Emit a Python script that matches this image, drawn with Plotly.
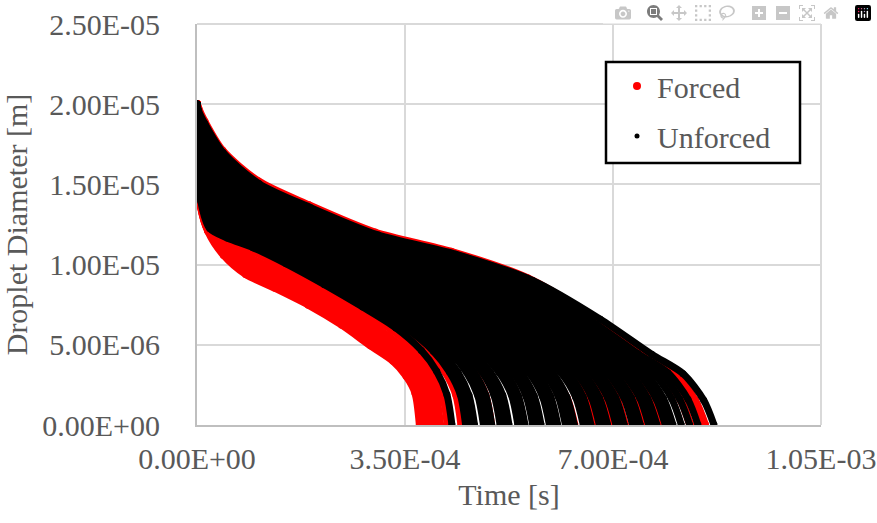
import plotly.graph_objects as go

# Fraction of each droplet's lifetime at which diameters were read
FRAC = [0, 0.003, 0.015, 0.05, 0.12, 0.22, 0.35, 0.5, 0.65, 0.78, 0.88, 0.94, 0.98, 1.0]

# Forced droplets: lifetime (1e-4 s) and diameter (um) at FRAC points
FORCED_END = [3.75, 3.86, 3.97, 4.09, 4.22, 4.45, 4.95, 5.2, 5.5, 5.75, 6.05, 6.35,
              6.65, 6.95, 7.2, 7.55, 7.85, 8.3, 8.55]
FORCED_D = [
    [20, 15.7, 13.8, 12.1, 10.6, 9.4, 8.55, 7.5, 6.25, 4.95, 4.0, 3.05, 2.0, 0],
    [20, 15.85, 13.8, 12.1, 10.8, 9.7, 8.8, 7.7, 6.45, 5.15, 4.1, 3.1, 2.0, 0],
    [20, 16.0, 13.8, 12.1, 10.95, 10.0, 9.1, 7.95, 6.6, 5.35, 4.25, 3.15, 1.95, 0],
    [20, 16.2, 13.85, 12.15, 11.2, 10.4, 9.45, 8.25, 6.9, 5.6, 4.4, 3.2, 1.95, 0],
    [20, 16.45, 13.9, 12.2, 11.5, 10.85, 9.85, 8.6, 7.2, 5.9, 4.55, 3.3, 1.9, 0],
    [20, 16.6, 14.0, 12.3, 11.6, 11.0, 9.95, 8.7, 7.25, 5.95, 4.6, 3.3, 1.9, 0],
    [20, 17.0, 14.6, 12.9, 12.1, 11.4, 10.3, 9.0, 7.5, 6.05, 4.6, 3.3, 1.85, 0],
    [20, 17.2, 15.0, 13.3, 12.35, 11.55, 10.4, 9.1, 7.6, 6.0, 4.4, 3.1, 1.7, 0],
    [20, 17.4, 15.3, 13.6, 12.6, 11.8, 10.55, 9.3, 7.8, 6.2, 4.55, 3.3, 1.8, 0],
    [20, 17.6, 15.6, 13.9, 12.8, 11.9, 10.7, 9.4, 7.9, 6.1, 4.4, 3.1, 1.7, 0],
    [20, 17.8, 16.0, 14.3, 13.1, 12.1, 10.85, 9.6, 8.05, 6.3, 4.55, 3.3, 1.8, 0],
    [20, 18.0, 16.3, 14.6, 13.35, 12.3, 11.0, 9.7, 8.15, 6.2, 4.4, 3.1, 1.65, 0],
    [20, 18.2, 16.5, 14.8, 13.55, 12.5, 11.1, 9.85, 8.3, 6.4, 4.55, 3.3, 1.75, 0],
    [20, 18.4, 16.9, 15.2, 13.85, 12.7, 11.3, 10.0, 8.45, 6.4, 4.4, 3.1, 1.6, 0],
    [20, 18.6, 17.2, 15.5, 14.05, 12.85, 11.4, 10.1, 8.55, 6.5, 4.55, 3.3, 1.7, 0],
    [20, 18.9, 17.6, 15.9, 14.35, 13.1, 11.6, 10.3, 8.7, 6.5, 4.4, 3.1, 1.6, 0],
    [20, 19.1, 17.9, 16.2, 14.6, 13.3, 11.75, 10.45, 8.85, 6.6, 4.5, 3.3, 1.65, 0],
    [20, 19.5, 18.6, 16.9, 15.05, 13.6, 11.95, 10.7, 9.1, 6.7, 4.45, 3.25, 1.6, 0],
    [20, 19.7, 18.9, 17.1, 15.2, 13.7, 12.0, 10.8, 9.15, 6.7, 4.4, 3.2, 1.55, 0],
]

# Unforced droplets: lifetime (1e-4 s) and diameter (um) at FRAC points
UNFORCED_END = [4.29, 4.52, 4.60, 4.67, 4.82, 4.89, 4.96, 5.10, 5.17, 5.25, 5.40, 5.46,
                5.52, 5.65, 5.72, 5.79, 5.93, 6.00, 6.07, 6.20, 6.28, 6.35, 6.50, 6.57,
                6.63, 6.77, 6.84, 6.91, 7.05, 7.12, 7.19, 7.33, 7.40, 7.46, 7.60, 7.67,
                7.74, 7.88, 7.95, 8.01, 8.15, 8.29, 8.43, 8.70]
UNFORCED_D = [
    [20, 16.6, 13.95, 12.25, 11.65, 11.05, 10.05, 8.75, 7.35, 6.05, 4.65, 3.35, 1.9, 0],
    [20, 16.7, 14.1, 12.4, 11.7, 11.1, 10.0, 8.75, 7.3, 6.0, 4.6, 3.3, 1.9, 0],
    [20, 16.75, 14.2, 12.5, 11.75, 11.15, 10.05, 8.8, 7.35, 5.9, 4.5, 3.2, 1.8, 0],
    [20, 16.8, 14.3, 12.6, 11.85, 11.2, 10.1, 8.85, 7.4, 6.0, 4.6, 3.3, 1.85, 0],
    [20, 16.9, 14.45, 12.75, 12.0, 11.3, 10.2, 8.9, 7.45, 6.05, 4.6, 3.3, 1.85, 0],
    [20, 16.95, 14.5, 12.8, 12.05, 11.35, 10.25, 8.95, 7.5, 6.15, 4.7, 3.4, 1.9, 0],
    [20, 17.0, 14.6, 12.9, 12.1, 11.4, 10.3, 9.0, 7.5, 6.1, 4.6, 3.3, 1.85, 0],
    [20, 17.1, 14.8, 13.1, 12.2, 11.45, 10.35, 9.05, 7.6, 6.1, 4.6, 3.3, 1.85, 0],
    [20, 17.15, 14.9, 13.2, 12.3, 11.5, 10.4, 9.05, 7.6, 6.05, 4.5, 3.2, 1.8, 0],
    [20, 17.2, 14.95, 13.25, 12.35, 11.55, 10.4, 9.1, 7.65, 6.1, 4.6, 3.3, 1.85, 0],
    [20, 17.3, 15.1, 13.4, 12.5, 11.65, 10.5, 9.2, 7.7, 6.15, 4.6, 3.3, 1.85, 0],
    [20, 17.35, 15.2, 13.5, 12.55, 11.7, 10.5, 9.25, 7.75, 6.25, 4.7, 3.4, 1.9, 0],
    [20, 17.4, 15.25, 13.55, 12.6, 11.75, 10.55, 9.3, 7.8, 6.2, 4.6, 3.3, 1.8, 0],
    [20, 17.5, 15.4, 13.7, 12.7, 11.85, 10.6, 9.35, 7.85, 6.2, 4.55, 3.3, 1.8, 0],
    [20, 17.55, 15.5, 13.8, 12.75, 11.85, 10.65, 9.35, 7.85, 6.15, 4.5, 3.2, 1.75, 0],
    [20, 17.6, 15.6, 13.9, 12.8, 11.9, 10.7, 9.4, 7.9, 6.2, 4.55, 3.3, 1.8, 0],
    [20, 17.7, 15.75, 14.05, 12.95, 12.0, 10.75, 9.5, 8.0, 6.25, 4.55, 3.3, 1.8, 0],
    [20, 17.75, 15.8, 14.1, 13.0, 12.05, 10.8, 9.55, 8.0, 6.35, 4.65, 3.4, 1.85, 0],
    [20, 17.8, 15.9, 14.2, 13.1, 12.1, 10.8, 9.6, 8.05, 6.3, 4.55, 3.3, 1.8, 0],
    [20, 17.9, 16.1, 14.4, 13.2, 12.2, 10.9, 9.65, 8.1, 6.3, 4.55, 3.3, 1.8, 0],
    [20, 17.95, 16.2, 14.5, 13.25, 12.25, 10.95, 9.7, 8.15, 6.25, 4.45, 3.2, 1.7, 0],
    [20, 18.0, 16.25, 14.55, 13.3, 12.3, 11.0, 9.7, 8.2, 6.3, 4.55, 3.3, 1.75, 0],
    [20, 18.15, 16.4, 14.7, 13.45, 12.4, 11.05, 9.8, 8.25, 6.35, 4.55, 3.3, 1.75, 0],
    [20, 18.2, 16.5, 14.8, 13.5, 12.45, 11.1, 9.8, 8.3, 6.45, 4.65, 3.4, 1.8, 0],
    [20, 18.25, 16.55, 14.85, 13.6, 12.5, 11.1, 9.85, 8.3, 6.4, 4.55, 3.3, 1.75, 0],
    [20, 18.35, 16.7, 15.0, 13.7, 12.6, 11.2, 9.9, 8.4, 6.4, 4.55, 3.3, 1.75, 0],
    [20, 18.4, 16.8, 15.1, 13.75, 12.65, 11.25, 9.95, 8.4, 6.35, 4.45, 3.2, 1.7, 0],
    [20, 18.45, 16.9, 15.2, 13.8, 12.7, 11.3, 10.0, 8.45, 6.45, 4.55, 3.3, 1.7, 0],
    [20, 18.55, 17.05, 15.35, 13.95, 12.8, 11.35, 10.05, 8.5, 6.5, 4.55, 3.3, 1.7, 0],
    [20, 18.6, 17.1, 15.4, 14.0, 12.85, 11.4, 10.1, 8.55, 6.6, 4.65, 3.4, 1.75, 0],
    [20, 18.65, 17.2, 15.5, 14.1, 12.9, 11.4, 10.1, 8.6, 6.5, 4.55, 3.3, 1.7, 0],
    [20, 18.75, 17.4, 15.7, 14.2, 12.95, 11.5, 10.2, 8.65, 6.55, 4.55, 3.3, 1.7, 0],
    [20, 18.8, 17.5, 15.8, 14.25, 13.0, 11.55, 10.25, 8.7, 6.5, 4.4, 3.2, 1.65, 0],
    [20, 18.9, 17.55, 15.85, 14.3, 13.05, 11.6, 10.3, 8.7, 6.6, 4.5, 3.3, 1.7, 0],
    [20, 19.0, 17.7, 16.0, 14.4, 13.15, 11.65, 10.35, 8.8, 6.6, 4.5, 3.3, 1.7, 0],
    [20, 19.05, 17.8, 16.1, 14.5, 13.2, 11.7, 10.4, 8.8, 6.7, 4.6, 3.35, 1.7, 0],
    [20, 19.1, 17.85, 16.15, 14.55, 13.25, 11.7, 10.4, 8.85, 6.6, 4.5, 3.3, 1.65, 0],
    [20, 19.2, 18.0, 16.3, 14.7, 13.35, 11.8, 10.5, 8.9, 6.65, 4.5, 3.3, 1.65, 0],
    [20, 19.25, 18.1, 16.4, 14.75, 13.4, 11.8, 10.5, 8.95, 6.6, 4.4, 3.2, 1.6, 0],
    [20, 19.3, 18.2, 16.5, 14.8, 13.4, 11.85, 10.55, 9.0, 6.7, 4.5, 3.3, 1.65, 0],
    [20, 19.4, 18.35, 16.65, 14.9, 13.5, 11.9, 10.65, 9.05, 6.7, 4.5, 3.3, 1.65, 0],
    [20, 19.45, 18.4, 16.7, 14.95, 13.5, 11.9, 10.65, 9.0, 6.7, 4.5, 3.3, 1.6, 0],
    [20, 19.5, 18.5, 16.8, 15.0, 13.5, 11.9, 10.65, 9.0, 6.65, 4.45, 3.25, 1.6, 0],
    [20, 19.6, 18.8, 17.0, 15.05, 13.55, 11.85, 10.65, 9.0, 6.6, 4.4, 3.2, 1.55, 0],
]

X_TICKS = [0, 3.5e-4, 7.0e-4, 1.05e-3]
X_TICK_TEXT = ["0.00E+00", "3.50E-04", "7.00E-04", "1.05E-03"]
Y_TICKS = [0, 5e-6, 1e-5, 1.5e-5, 2e-5, 2.5e-5]
Y_TICK_TEXT = ["0.00E+00", "5.00E-06", "1.00E-05", "1.50E-05", "2.00E-05", "2.50E-05"]

FONT = "Liberation Serif"
GREY = "#595959"
GRID = "#d9d9d9"
FS = 30

fig = go.Figure()


def add_series(ends, diams, color, width, msize):
    for t_end, d in zip(ends, diams):
        fig.add_trace(go.Scatter(
            x=[f * t_end * 1e-4 for f in FRAC],
            y=[v * 1e-6 for v in d],
            mode="lines+markers",
            line=dict(color=color, width=width, shape="spline", smoothing=0.8),
            marker=dict(color=color, size=msize),
            showlegend=False,
            hoverinfo="skip",
        ))


add_series(FORCED_END, FORCED_D, "#ff0000", 8, 8)
add_series(UNFORCED_END, UNFORCED_D, "#000000", 7, 7)

# legend entries
fig.add_trace(go.Scatter(x=[None], y=[None], mode="markers", name="Forced",
                         legendgroup="f", marker=dict(color="#ff0000", size=8)))
fig.add_trace(go.Scatter(x=[None], y=[None], mode="markers", name="Unforced",
                         legendgroup="u", marker=dict(color="#000000", size=5)))

# top and right plot-area edges (light grid colour)
fig.add_shape(type="line", xref="paper", yref="paper", x0=0, x1=1, y0=1, y1=1,
              line=dict(color=GRID, width=2), layer="below")
fig.add_shape(type="line", xref="paper", yref="paper", x0=1, x1=1, y0=0, y1=1,
              line=dict(color=GRID, width=2), layer="below")

# legend frame
fig.add_shape(type="rect", xref="paper", yref="paper",
              x0=(606 - 197) / 624, x1=(800 - 197) / 624,
              y0=(425 - 163) / 401, y1=(425 - 62) / 401,
              line=dict(color="black", width=2.5), fillcolor="white", layer="above")

# full window size; the page margin is removed after plotting (post_script)
fig.update_layout(
    width=877, height=523,
    margin=dict(l=197, r=56, t=24, b=98, autoexpand=False),
    paper_bgcolor="white", plot_bgcolor="white",
    font=dict(family=FONT, size=FS, color=GREY),
    legend=dict(
        x=(617 - 197) / 624, y=(425 - 60) / 401, xanchor="left", yanchor="top",
        bgcolor="rgba(0,0,0,0)", borderwidth=0,
        font=dict(family=FONT, size=FS, color=GREY),
        itemwidth=30, tracegroupgap=8, traceorder="grouped",
    ),
    showlegend=True,
)
fig.update_xaxes(
    range=[0, 1.05e-3], tickvals=X_TICKS, ticktext=X_TICK_TEXT,
    tickfont=dict(family=FONT, size=30, color=GREY),
    showgrid=True, gridcolor=GRID, gridwidth=2,
    showline=True, linecolor="#bfbfbf", linewidth=2,
    zeroline=False, ticks="outside", ticklen=6, tickcolor="rgba(0,0,0,0)",
    automargin=False, ticklabeloverflow="allow",
    title=dict(text="Time [s]", font=dict(family=FONT, size=FS, color=GREY), standoff=10),
)
fig.update_yaxes(
    range=[0, 2.5e-5], tickvals=Y_TICKS, ticktext=Y_TICK_TEXT,
    showgrid=True, gridcolor=GRID, gridwidth=2,
    showline=True, linecolor="#bfbfbf", linewidth=2,
    zeroline=False, ticks="outside", ticklen=29, tickcolor="rgba(0,0,0,0)",
    automargin=False, ticklabeloverflow="allow",
    title=dict(text="Droplet Diameter [m]", font=dict(family=FONT, size=FS, color=GREY), standoff=10),
)

fig.write_html(
    "out.html",
    post_script="document.body.style.margin='0';"
                "document.body.style.overflow='hidden';"
                "document.documentElement.style.overflow='hidden';",
)
